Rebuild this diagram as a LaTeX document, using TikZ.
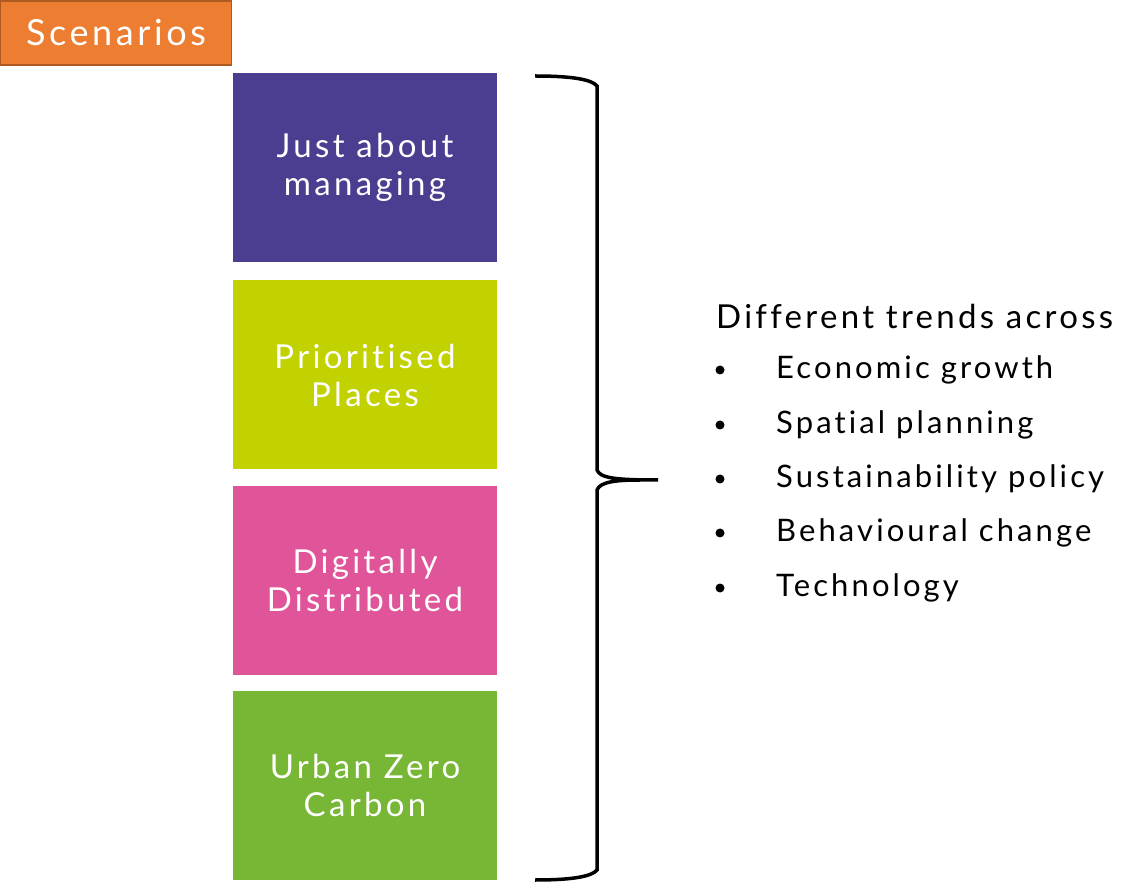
\documentclass[tikz,border=0pt]{standalone}
\usepackage{fontspec}
\setmainfont{Lato}[LetterSpace=10, Ligatures={NoCommon,NoRequired,NoContextual}]
\definecolor{orangeS}{HTML}{ED7D31}
\definecolor{orangeB}{HTML}{AE5A21}
\definecolor{purpleS}{HTML}{4B3D8F}
\definecolor{limeS}{HTML}{C2D100}
\definecolor{pinkS}{HTML}{E05599}
\definecolor{greenS}{HTML}{78B735}
\tikzset{
  scen/.style={rectangle, minimum width=264pt, minimum height=189pt, inner sep=0pt, text=white, align=center, font=\fontsize{33}{38}\selectfont},
  bulletitem/.style={anchor=west, inner sep=0pt, font=\fontsize{31}{34}\selectfont},
  bulletdot/.style={circle, fill=black, inner sep=0pt, minimum size=9pt}
}
\begin{document}
\begin{tikzpicture}[x=1pt,y=-1pt]
\useasboundingbox (0,0) rectangle (1128,882);
\node[draw=orangeB, fill=orangeS, line width=1.5pt, minimum width=231pt, minimum height=64pt, inner sep=0pt, text=white, font=\fontsize{36}{40}\selectfont] (title) at (116,33) {Scenarios};
\node[scen, fill=purpleS] (s1) at (365,167.5) {Just about\\managing};
\node[scen, fill=limeS] (s2) at (365,375) {Prioritised\\Places};
\node[scen, fill=pinkS] (s3) at (365,580.5) {Digitally\\Distributed};
\node[scen, fill=greenS] (s4) at (365,785.5) {Urban Zero\\Carbon};
\draw[line width=3.5pt] (535,76) .. controls (575,76) and (592,80) .. (597,86) -- (597,470) .. controls (600,478) and (615,480) .. (658,480) -- (640,480) .. controls (615,480) and (600,482) .. (597,490) -- (597,870) .. controls (592,876) and (575,880) .. (535,880);
\node[bulletitem, font=\fontsize{33}{34}\selectfont] (head) at (716,316) {Different trends across};
\node[bulletdot] (d1) at (720,370) {};
\node[bulletitem] (b1) at (776,370) {Economic growth};
\node[bulletdot] (d2) at (720,425) {};
\node[bulletitem] (b2) at (776,425) {Spatial planning};
\node[bulletdot] (d3) at (720,479) {};
\node[bulletitem] (b3) at (776,479) {Sustainability policy};
\node[bulletdot] (d4) at (720,533) {};
\node[bulletitem] (b4) at (776,533) {Behavioural change};
\node[bulletdot] (d5) at (720,588) {};
\node[bulletitem] (b5) at (776,588) {Technology};
\end{tikzpicture}
\end{document}
